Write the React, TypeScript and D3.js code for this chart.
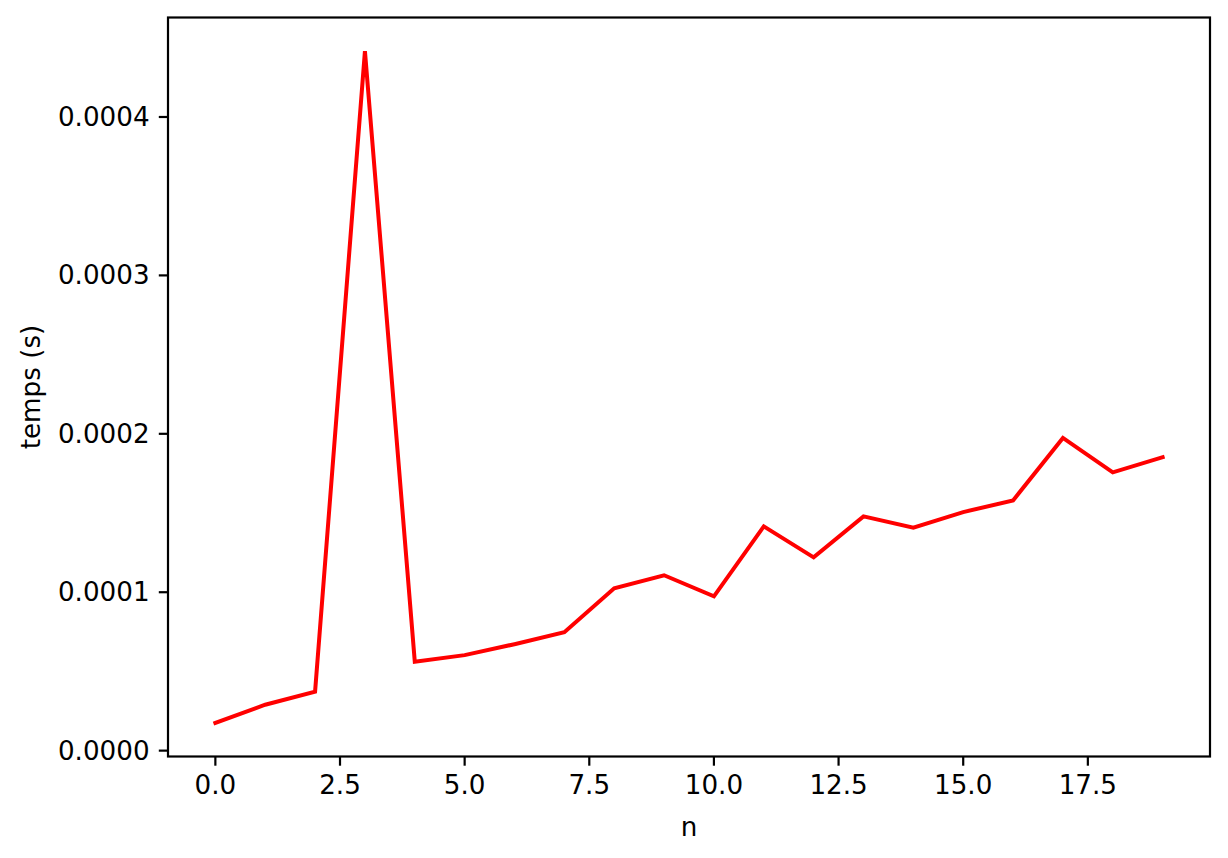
import React from "react";
import * as d3 from "d3";

const nValues = [0, 1, 2, 3, 4, 5, 6, 7, 8, 9, 10, 11, 12, 13, 14, 15, 16, 17, 18, 19];
const tempsValues = [
  0.0000175, 0.000029, 0.0000372, 0.0004416, 0.0000561, 0.0000603, 0.0000672, 0.0000748,
  0.0001025, 0.0001107, 0.0000974, 0.0001416, 0.000122, 0.0001479, 0.0001407, 0.0001506,
  0.0001579, 0.0001974, 0.0001757, 0.0001852,
];
const xTicks = [0, 2.5, 5, 7.5, 10, 12.5, 15, 17.5];
const yTicks = [0, 0.0001, 0.0002, 0.0003, 0.0004];

const W = 1228;
const H = 858;
const left = 168;
const right = 1210;
const top = 17.5;
const bottom = 756.5;
const FONT = "'DejaVu Sans', sans-serif";
const FS = 26.2;
const TICK = 9.2;
const PAD = 9.2;

export default function App() {
  const xMin = d3.min(nValues)!;
  const xMax = d3.max(nValues)!;
  const xPad = (xMax - xMin) * 0.05;
  const yMin = d3.min(tempsValues)!;
  const yMax = d3.max(tempsValues)!;
  const yPad = (yMax - yMin) * 0.05;

  const x = d3.scaleLinear().domain([xMin - xPad, xMax + xPad]).range([left, right]);
  const y = d3.scaleLinear().domain([yMin - yPad, yMax + yPad]).range([bottom, top]);

  const line = d3
    .line<number>()
    .x((_, i) => x(nValues[i]))
    .y((d) => y(d));

  return (
    <svg
      width={W}
      height={H}
      style={{ position: "absolute", left: 0, top: 0, background: "#fff" }}
      fontFamily={FONT}
    >
      <rect x={0} y={0} width={W} height={H} fill="#fff" />
      <path
        d={line(tempsValues) || ""}
        fill="none"
        stroke="#ff0000"
        strokeWidth={4}
        strokeLinejoin="miter"
        strokeLinecap="square"
      />
      <rect x={left} y={top} width={right - left} height={bottom - top} fill="none" stroke="#000" strokeWidth={2.2} />
      {xTicks.map((t) => (
        <g key={"x" + t}>
          <line x1={x(t)} x2={x(t)} y1={bottom} y2={bottom + TICK} stroke="#000" strokeWidth={2.2} />
          <text x={x(t)} y={bottom + TICK + PAD} textAnchor="middle" dominantBaseline="hanging" fontSize={FS} fill="#000">
            {t.toFixed(1)}
          </text>
        </g>
      ))}
      {yTicks.map((t) => (
        <g key={"y" + t}>
          <line x1={left - TICK} x2={left} y1={y(t)} y2={y(t)} stroke="#000" strokeWidth={2.2} />
          <text x={left - TICK - PAD} y={y(t)} textAnchor="end" dominantBaseline="central" fontSize={FS} fill="#000">
            {t.toFixed(4)}
          </text>
        </g>
      ))}
      <text x={(left + right) / 2} y={827} textAnchor="middle" dominantBaseline="central" fontSize={FS} fill="#000">
        n
      </text>
      <text
        transform={`translate(31, ${(top + bottom) / 2}) rotate(-90)`}
        textAnchor="middle"
        dominantBaseline="central"
        fontSize={FS}
        fill="#000"
      >
        temps (s)
      </text>
    </svg>
  );
}
